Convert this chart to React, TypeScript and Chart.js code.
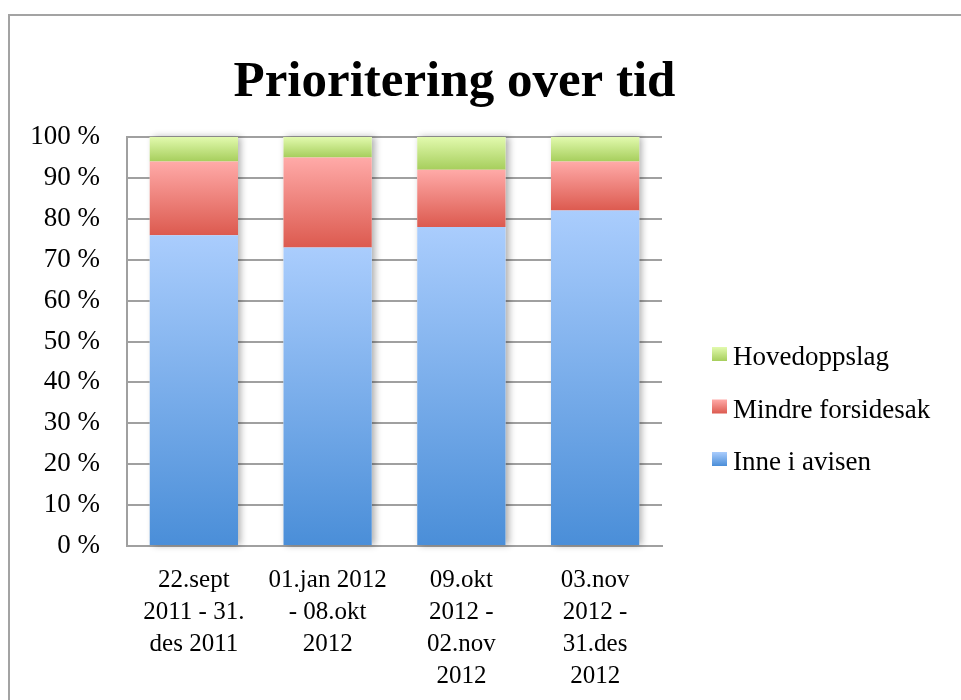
import React, { useEffect, useRef } from "react";
import { Chart, registerables } from "chart.js";

Chart.register(...registerables);

// ---- data ----
const chartTitle = "Prioritering over tid";
const categories: string[][] = [
  ["22.sept", "2011 - 31.", "des 2011"],
  ["01.jan 2012", "- 08.okt", "2012"],
  ["09.okt", "2012 -", "02.nov", "2012"],
  ["03.nov", "2012 -", "31.des", "2012"],
];
const seriesNames = ["Inne i avisen", "Mindre forsidesak", "Hovedoppslag"];
const inneIAvisen = [76, 73, 78, 82];
const mindreForsidesak = [18, 22, 14, 12];
const hovedoppslag = [6, 5, 8, 6];
const yTickStep = 10;
const yMax = 100;

// ---- styles ----
const topColors = ["#aacdfd", "#ffaaa8", "#e2faae"];
const bottomColors = ["#4a8ed8", "#dc5a4f", "#a6ce5c"];
const gridColor = "#a0a0a0";
const FONT = "'Liberation Serif', 'Times New Roman', serif";

const seriesValues = [inneIAvisen, mindreForsidesak, hovedoppslag];

function gradientFill(dsIndex: number) {
  return (c: any) => {
    const chart = c.chart;
    const y = chart.scales && chart.scales.y;
    if (c.type !== "data" || !y || !chart.chartArea) return bottomColors[dsIndex];
    const i = c.dataIndex;
    let start = 0;
    for (let d = 0; d < dsIndex; d++) start += seriesValues[d][i];
    const end = start + seriesValues[dsIndex][i];
    const yTop = y.getPixelForValue(end);
    const yBot = y.getPixelForValue(start);
    if (!isFinite(yTop) || !isFinite(yBot) || yTop === yBot) return bottomColors[dsIndex];
    const g = chart.ctx.createLinearGradient(0, yTop, 0, yBot);
    g.addColorStop(0, topColors[dsIndex]);
    g.addColorStop(1, bottomColors[dsIndex]);
    return g;
  };
}

const stackShadow = {
  id: "stackShadow",
  beforeDatasetsDraw(chart: any) {
    const n = chart.data.datasets.length;
    const first = chart.getDatasetMeta(0);
    const last = chart.getDatasetMeta(n - 1);
    const ctx = chart.ctx;
    ctx.save();
    ctx.shadowColor = "rgba(0,0,0,0.32)";
    ctx.shadowBlur = 7;
    ctx.shadowOffsetX = 3;
    ctx.shadowOffsetY = 0;
    ctx.fillStyle = "#ffffff";
    first.data.forEach((el: any, i: number) => {
      const p = el.getProps(["x", "base", "width"], true);
      const t = last.data[i].getProps(["y"], true);
      ctx.fillRect(p.x - p.width / 2, t.y, p.width, p.base - t.y);
    });
    ctx.restore();
  },
};

const sideLegend = {
  id: "sideLegend",
  afterDraw(chart: any) {
    const { ctx, chartArea } = chart;
    const x0 = chartArea.right + 50;
    const yMid = (chartArea.top + chartArea.bottom) / 2 + 65;
    const n = chart.data.datasets.length;
    ctx.save();
    ctx.font = `27px ${FONT}`;
    ctx.fillStyle = "#000";
    ctx.textAlign = "left";
    ctx.textBaseline = "alphabetic";
    for (let k = 0; k < n; k++) {
      const di = n - 1 - k;
      const cy = yMid + (k - (n - 1) / 2) * 52.5;
      const g = ctx.createLinearGradient(0, cy - 7, 0, cy + 7);
      g.addColorStop(0, topColors[di]);
      g.addColorStop(1, bottomColors[di]);
      ctx.fillStyle = g;
      ctx.fillRect(x0, cy - 7, 15, 14);
      ctx.fillStyle = "#000";
      ctx.fillText(chart.data.datasets[di].label, x0 + 21, cy + 11);
    }
    ctx.restore();
  },
};

export default function App() {
  const ref = useRef<HTMLCanvasElement | null>(null);

  useEffect(() => {
    document.body.style.margin = "0";
    const canvas = ref.current;
    if (!canvas) return;
    const chart = new Chart(canvas, {
      type: "bar",
      data: {
        labels: categories,
        datasets: seriesValues.map((vals, d) => ({
          label: seriesNames[d],
          data: vals,
          backgroundColor: gradientFill(d),
          borderWidth: 0,
          barPercentage: 0.66,
          categoryPercentage: 1,
        })),
      },
      options: {
        responsive: false,
        animation: false,
        layout: { padding: { left: 0, right: 52, top: 0, bottom: 0 } },
        plugins: {
          legend: { display: false },
          tooltip: { enabled: false },
          title: {
            display: true,
            text: chartTitle,
            color: "#000",
            font: { family: FONT, size: 51, weight: "bold", lineHeight: 1.2 },
            padding: { top: 52, bottom: 23.8 },
          },
        },
        scales: {
          x: {
            stacked: true,
            grid: { display: false, drawTicks: false },
            border: { display: true, color: gridColor, width: 2 },
            ticks: {
              color: "#000",
              font: { family: FONT, size: 25, lineHeight: 1.28 },
              padding: 18,
              maxRotation: 0,
              autoSkip: false,
            },
            afterFit: (s: any) => {
              s.height = 154;
            },
          },
          y: {
            stacked: true,
            min: 0,
            max: yMax,
            grid: { color: gridColor, lineWidth: 2, drawTicks: false },
            border: { display: true, color: gridColor, width: 2 },
            ticks: {
              stepSize: yTickStep,
              color: "#000",
              font: { family: FONT, size: 27 },
              padding: 27,
              callback: (v: any) => `${v} %`,
            },
            afterFit: (s: any) => {
              s.width = 127;
            },
          },
          y2: {
            type: "linear",
            position: "right",
            display: true,
            grid: { display: false, drawTicks: false },
            border: { display: false },
            ticks: { display: false },
            afterFit: (s: any) => {
              s.width = 247;
            },
          },
        },
      },
      plugins: [stackShadow, sideLegend],
    } as any);
    return () => chart.destroy();
  }, []);

  return (
    <div style={{ position: "relative", width: 961, height: 700, overflow: "hidden", background: "#fff" }}>
      <div
        style={{
          position: "absolute",
          left: 8,
          top: 14,
          width: 1100,
          height: 1100,
          border: "2px solid #a3a3a3",
          boxSizing: "border-box",
        }}
      />
      <canvas ref={ref} width={961} height={700} style={{ position: "absolute", left: 0, top: 0 }} />
    </div>
  );
}
